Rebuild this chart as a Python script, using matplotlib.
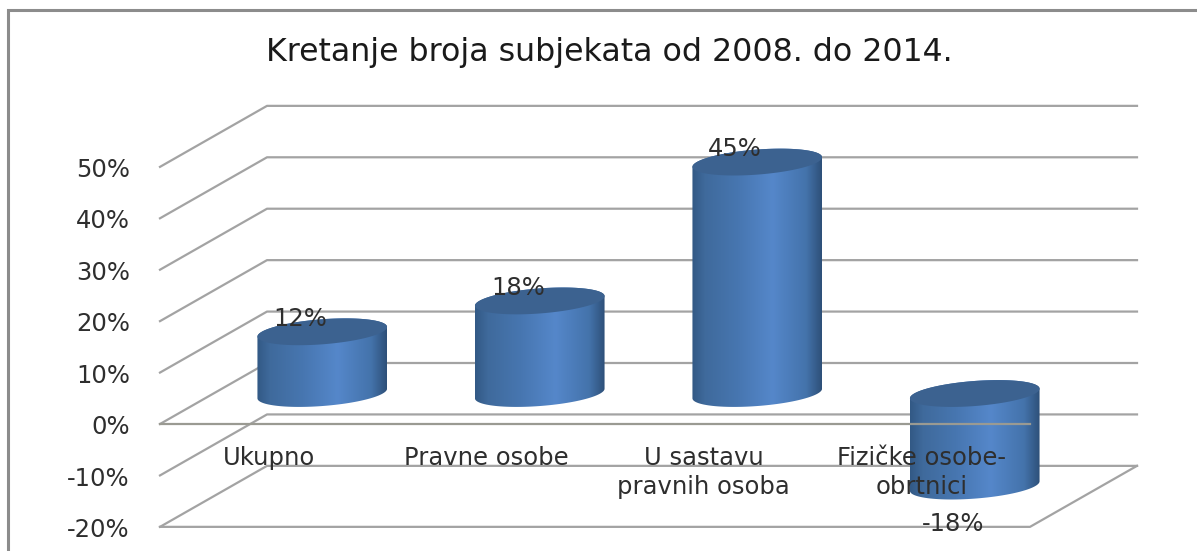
import numpy as np
import matplotlib.pyplot as plt
from matplotlib.colors import LinearSegmentedColormap
from matplotlib.patches import Polygon

title = "Kretanje broja subjekata od 2008. do 2014."
categories = ["Ukupno", "Pravne osobe", "U sastavu\npravnih osoba", "Fizičke osobe-\nobrtnici"]
values = [12, 18, 45, -18]
value_labels = ["12%", "18%", "45%", "-18%"]
levels = [-20, -10, 0, 10, 20, 30, 40, 50]
level_labels = ["-20%", "-10%", "0%", "10%", "20%", "30%", "40%", "50%"]

# pixels per unit on the front wall
PX_X = 217.5
PX_Y = 360 / 70
# depth of the 3d box, in data units
DEPTH_X = 107 / PX_X
DEPTH_Y = 61 / PX_Y
GREY = "#a3a3a3"
TXT = "#2e2e2e"

plt.rcParams['font.family'] = ['DejaVu Sans']
fig = plt.figure(figsize=(11.97, 5.51), dpi=100)
ax = fig.add_axes([0, 0, 1, 1])
xlim = (-160 / PX_X, (1197 - 160) / PX_X)
ylim = (-(551 - 424) / PX_Y, 424 / PX_Y)
ax.axis("off")

# outer frame, runs off the right and bottom edge
ax.plot([xlim[1], xlim[0] + 8 / PX_X, xlim[0] + 8 / PX_X],
        [ylim[1] - 10 / PX_Y, ylim[1] - 10 / PX_Y, ylim[0]],
        color="#8c8c8c", lw=2.2, solid_joinstyle="miter", zorder=1)

n = len(categories)
for lv, lab in zip(levels, level_labels):
    ax.plot([0, DEPTH_X, n + DEPTH_X], [lv, lv + DEPTH_Y, lv + DEPTH_Y],
            color=GREY, lw=1.6, zorder=1)
    ax.text(-30 / PX_X, lv - 0.6, lab, ha="right", va="center", fontsize=17.5, color=TXT, zorder=6)

# floor front edge and right side
ax.plot([0, n, n + DEPTH_X], [levels[0], levels[0], levels[0] + DEPTH_Y],
        color=GREY, lw=1.6, zorder=1)

cmap = LinearSegmentedColormap.from_list("cyl", [(0, "#325985"), (0.1, "#3f6a9c"), (0.35, "#4776b0"),
                                                 (0.62, "#5587ca"), (0.88, "#4473ab"), (1, "#2e5079")])
grad = np.linspace(0, 1, 256).reshape(1, -1)


def ellipse(cx, cy, t):
    # tilted ellipse, worked out in pixels then put back to data units
    a, b, tilt = 65, 12.5, np.radians(4.4)
    px = a * np.cos(t) * np.cos(tilt) - b * np.sin(t) * np.sin(tilt)
    py = a * np.cos(t) * np.sin(tilt) + b * np.sin(t) * np.cos(tilt)
    return cx + px / PX_X, cy + py / PX_Y


for i, v in enumerate(values):
    cx = i + 0.5 + DEPTH_X / 2
    y0 = DEPTH_Y / 2 + min(v, 0)
    y1 = DEPTH_Y / 2 + max(v, 0)
    bx, by = ellipse(cx, y0, np.linspace(np.pi, 2 * np.pi, 60))
    tx, ty = ellipse(cx, y1, np.linspace(0, np.pi, 60))
    side = Polygon(np.column_stack([np.r_[bx, tx], np.r_[by, ty]]), closed=True,
                   fc="none", ec="none", transform=ax.transData)
    ax.add_patch(side)
    im = ax.imshow(grad, cmap=cmap, aspect="auto", zorder=2,
                   extent=(cx - 65 / PX_X, cx + 65 / PX_X, y0 - 3, y1 + 3))
    im.set_clip_path(side)
    ex, ey = ellipse(cx, y1, np.linspace(0, 2 * np.pi, 120))
    ax.fill(ex, ey, color="#3c6290", lw=0, zorder=3)
    if v >= 0:
        ax.text(cx - 22 / PX_X, y1 + 13 / PX_Y, value_labels[i], ha="center", va="center",
                fontsize=17.5, color=TXT, zorder=6)
    else:
        ax.text(cx - 22 / PX_X, y0 - 38 / PX_Y, value_labels[i], ha="center", va="center",
                fontsize=17.5, color=TXT, zorder=6)

# front zero line sits on top of the negative cylinder
ax.plot([0, n], [0, 0], color="#9a9a92", lw=1.6, zorder=4)

for i, c in enumerate(categories):
    ax.text(i + 0.5, -4.3, c, ha="center", va="top", fontsize=17.5, color=TXT,
            linespacing=1.25, zorder=6)

ax.text(449 / PX_X, ylim[1] - 52 / PX_Y, title, ha="center", va="center", fontsize=22.8, color="#1a1a1a", zorder=6)

ax.set_xlim(*xlim)
ax.set_ylim(*ylim)
fig.savefig("out.png", dpi=100)
